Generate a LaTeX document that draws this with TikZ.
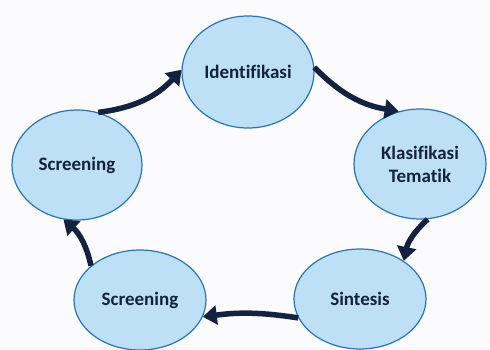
\documentclass[tikz,border=0pt]{standalone}
\usepackage{fontspec}
\setmainfont{Carlito}[Ligatures={NoCommon,NoContextual}]
\usetikzlibrary{shapes.geometric,arrows.meta}
\definecolor{bubble}{HTML}{BDE0F7}
\definecolor{rim}{HTML}{2C74B0}
\definecolor{navy}{HTML}{15223F}
\definecolor{bg}{HTML}{FBFBFD}
\tikzset{
  bub/.style={ellipse, draw=rim, line width=1.2pt, fill=bubble, inner sep=0pt,
    minimum width=132pt, minimum height=112pt, text=navy,
    font=\fontsize{19}{23}\selectfont\bfseries, align=center},
  flow/.style={draw=navy, line width=5.5pt, -{Triangle[length=14pt,width=19pt]}}
}
\begin{document}
\begin{tikzpicture}[x=1pt,y=-1pt]
\fill[bg] (0,0) rectangle (490,349);
\useasboundingbox (0,0) rectangle (490,349);
\node[bub] (ident) at (248,72) {Identifikasi};
\node[bub, minimum height=110pt] (klas) at (420,164) {Klasifikasi\\Tematik};
\node[bub, minimum height=100pt] (sint) at (360,299) {Sintesis};
\node[bub, minimum height=100pt] (scrB) at (140,300) {Screening};
\node[bub, minimum height=110pt, minimum width=130pt] (scrL) at (77,165) {Screening};
\draw[flow] (scrL.68) to[bend right=20] (ident.178);
\draw[flow] (ident.4) to[bend right=18] (klas.112);
\draw[flow] (klas.278) to[bend right=18] (sint.41);
\draw[flow] (sint.197) to[bend right=8] (scrB.-15);
\draw[flow] (scrB.145) to[bend right=18] (scrL.256);
\end{tikzpicture}
\end{document}
